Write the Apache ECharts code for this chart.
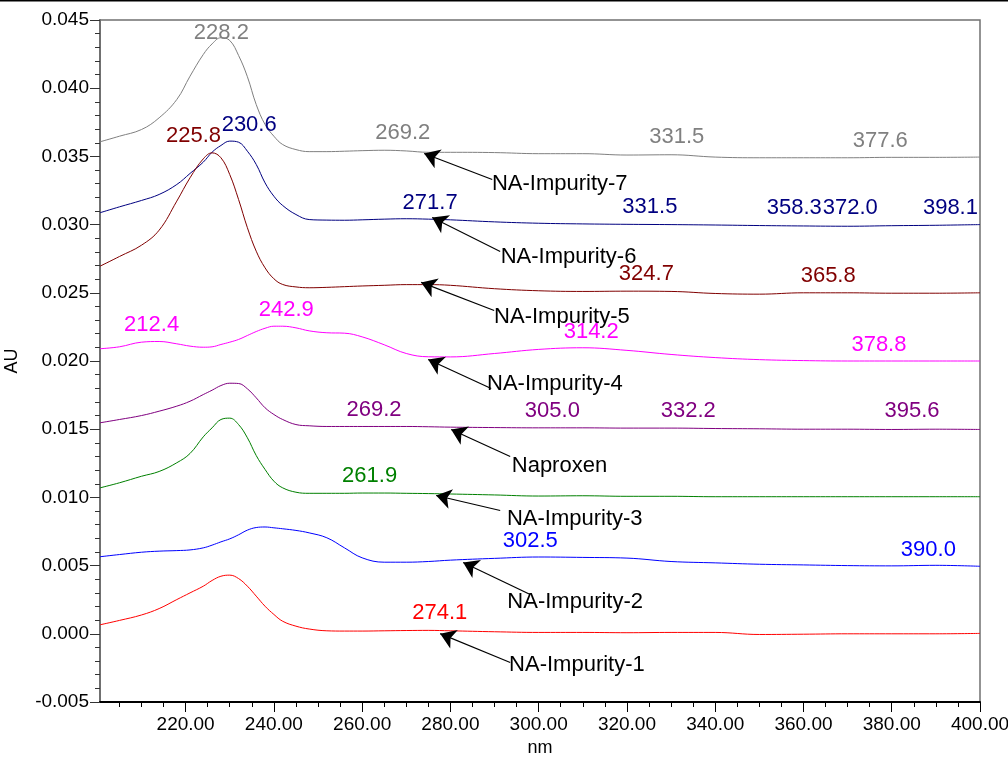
<!DOCTYPE html>
<html>
<head>
<meta charset="utf-8">
<script src="https://cdn.jsdelivr.net/npm/echarts@6/dist/echarts.min.js"></script>
<style>
html,body{margin:0;padding:0;background:#fff;}
#chart{width:1008px;height:758px;}
</style>
</head>
<body>
<div id="chart"></div>
<script>
// ---- Data ----
const wavelengths = [200.6, 205, 210, 214, 218, 221, 224, 226, 228, 230, 232, 234, 236, 238, 240, 242, 245, 248, 252, 256, 260, 265, 270, 275, 280, 290, 300, 310, 320, 330, 340, 350, 360, 370, 380, 390, 400];

const impurity7 = [0.03607, 0.03648, 0.03697, 0.03783, 0.03917, 0.04088, 0.04247, 0.04325, 0.0437, 0.0435, 0.0424, 0.04084, 0.0388, 0.03734, 0.03648, 0.03587, 0.0355, 0.03535, 0.03535, 0.03538, 0.03542, 0.03545, 0.0354, 0.0353, 0.0353, 0.03528, 0.0352, 0.0352, 0.0351, 0.03512, 0.03495, 0.0349, 0.0349, 0.0349, 0.03493, 0.03493, 0.03495];
const impurity6 = [0.03087, 0.0313, 0.03177, 0.03221, 0.03294, 0.03375, 0.03458, 0.03531, 0.0358, 0.03612, 0.03604, 0.03538, 0.03441, 0.03306, 0.03208, 0.0314, 0.03074, 0.03037, 0.03033, 0.03032, 0.03035, 0.0304, 0.03043, 0.0304, 0.03035, 0.0302, 0.0301, 0.03005, 0.03002, 0.03, 0.02997, 0.02993, 0.0299, 0.02988, 0.02992, 0.02995, 0.03];
const impurity5 = [0.02695, 0.02766, 0.02849, 0.02959, 0.03172, 0.03343, 0.03482, 0.03526, 0.0349, 0.03367, 0.03184, 0.02977, 0.02805, 0.02683, 0.02603, 0.02561, 0.02543, 0.02537, 0.0254, 0.02545, 0.0255, 0.02555, 0.0256, 0.0256, 0.02555, 0.0253, 0.02515, 0.0251, 0.02512, 0.0251, 0.02495, 0.0249, 0.025, 0.025, 0.02497, 0.02497, 0.025];
const impurity4 = [0.0209, 0.02104, 0.02138, 0.02143, 0.02126, 0.02109, 0.02101, 0.02104, 0.02121, 0.02138, 0.02158, 0.02187, 0.02216, 0.0224, 0.02255, 0.02255, 0.02243, 0.02221, 0.02207, 0.02204, 0.02177, 0.02119, 0.02055, 0.02031, 0.0203, 0.02055, 0.02085, 0.02097, 0.02078, 0.02048, 0.02025, 0.0201, 0.02003, 0.02, 0.02, 0.02, 0.02];
const naproxen = [0.01547, 0.01571, 0.016, 0.01632, 0.01669, 0.01705, 0.01754, 0.01786, 0.0182, 0.01837, 0.01835, 0.01796, 0.0173, 0.01657, 0.01608, 0.01571, 0.01534, 0.01525, 0.0152, 0.0152, 0.0152, 0.0152, 0.0152, 0.01518, 0.01515, 0.01512, 0.0151, 0.0151, 0.01508, 0.01508, 0.01505, 0.01503, 0.015, 0.015, 0.01498, 0.015, 0.01498];
const impurity3 = [0.0107, 0.01107, 0.01155, 0.0119, 0.01254, 0.01322, 0.01444, 0.0151, 0.01571, 0.01581, 0.01534, 0.01437, 0.01307, 0.01205, 0.01119, 0.0107, 0.01038, 0.0103, 0.0103, 0.0103, 0.01032, 0.01032, 0.0103, 0.01028, 0.01025, 0.01018, 0.0101, 0.01012, 0.01008, 0.01008, 0.01005, 0.01005, 0.01005, 0.01005, 0.01005, 0.01005, 0.01005];
const impurity2 = [0.00565, 0.00581, 0.00598, 0.00606, 0.0061, 0.00615, 0.0063, 0.0065, 0.00674, 0.00696, 0.00726, 0.0076, 0.00779, 0.00783, 0.00777, 0.0077, 0.00758, 0.0074, 0.00704, 0.0063, 0.00557, 0.00525, 0.00525, 0.0053, 0.0054, 0.00553, 0.00563, 0.0056, 0.00555, 0.0053, 0.0052, 0.0051, 0.00505, 0.005, 0.00498, 0.00502, 0.00495];
const impurity1 = [0.00066, 0.00098, 0.00138, 0.00185, 0.00251, 0.003, 0.00349, 0.00391, 0.00422, 0.0043, 0.00405, 0.00349, 0.00276, 0.00202, 0.00142, 0.00092, 0.00056, 0.00035, 0.00022, 0.0002, 0.0002, 0.00022, 0.00024, 0.00025, 0.00022, 0.00015, 0.0001, 0.0001, 0.00008, 0.0001, 0.0001, -0.00005, -0.00003, 0, 0, 0, 0.00003];

const seriesNames = ['NA-Impurity-7', 'NA-Impurity-6', 'NA-Impurity-5', 'NA-Impurity-4', 'Naproxen', 'NA-Impurity-3', 'NA-Impurity-2', 'NA-Impurity-1'];
const seriesColors = ['#808080', '#000080', '#800000', '#ff00ff', '#800080', '#008000', '#0000ff', '#ff0000'];
const seriesValues = [impurity7, impurity6, impurity5, impurity4, naproxen, impurity3, impurity2, impurity1];

// Peak labels: [series index, label nm, label AU, text]
const peakLabels = [
  [0, 228.1, 0.04403, '228.2'], [0, 269.2, 0.03673, '269.2'], [0, 331.3, 0.03641, '331.5'], [0, 377.4, 0.03611, '377.6'],
  [1, 234.4, 0.03734, '230.6'], [1, 275.4, 0.0316, '271.7'], [1, 325.2, 0.03129, '331.5'], [1, 357.9, 0.0312, '358.3'], [1, 370.6, 0.0312, '372.0'], [1, 393.3, 0.03123, '398.1'],
  [2, 221.8, 0.03648, '225.8'], [2, 324.4, 0.02641, '324.7'], [2, 365.6, 0.02622, '365.8'],
  [3, 212.3, 0.02268, '212.4'], [3, 242.8, 0.02378, '242.9'], [3, 311.9, 0.02213, '314.2'], [3, 377.1, 0.02121, '378.8'],
  [4, 262.7, 0.01644, '269.2'], [4, 303.1, 0.01632, '305.0'], [4, 333.9, 0.01632, '332.2'], [4, 384.6, 0.01632, '395.6'],
  [5, 261.7, 0.01161, '261.9'],
  [6, 298.1, 0.00679, '302.5'], [6, 388.3, 0.00618, '390.0'],
  [7, 277.6, 0.00154, '274.1']
];

// Name callouts: text anchor (left, middle), arrow tip, arrow tail
const nameLabelPos = [
  [289.4, 0.03298], [291.4, 0.02766], [289.9, 0.02326], [288.3, 0.01835],
  [293.9, 0.01227], [292.8, 0.00845], [292.9, 0.00237], [293.3, -0.00225]
];
const arrowTips = [
  [274.05, 0.03521], [275.87, 0.03052], [273.37, 0.02576], [274.96, 0.02011],
  [280.17, 0.01498], [276.77, 0.01014], [282.89, 0.00523], [277.68, 0.00001]
];
const arrowTails = [
  [289.47, 0.03331], [291.28, 0.02803], [289.92, 0.0237], [289.24, 0.01798],
  [293.55, 0.013], [291.28, 0.00904], [298.08, 0.00288], [293.55, -0.0021]
];

const xMajorTicks = [220, 240, 260, 280, 300, 320, 340, 360, 380, 400];
const xMinorTicks = [205, 210, 215, 225, 230, 235, 245, 250, 255, 265, 270, 275, 285, 290, 295, 305, 310, 315, 325, 330, 335, 345, 350, 355, 365, 370, 375, 385, 390, 395];

// ---- Chart ----
const FONT = "'Liberation Sans', Arial, sans-serif";
const chart = echarts.init(document.getElementById('chart'), null, {renderer: 'canvas'});

const lineSeries = seriesNames.map((name, i) => ({
  name: name,
  type: 'line',
  xAxisIndex: 0,
  yAxisIndex: 0,
  data: wavelengths.map((w, k) => [w, seriesValues[i][k]]),
  smooth: 0.4,
  showSymbol: false,
  symbol: 'none',
  lineStyle: {color: seriesColors[i], width: 1},
  itemStyle: {color: seriesColors[i]},
  silent: true,
  z: 3
}));

const peakSeries = {
  type: 'scatter',
  xAxisIndex: 0, yAxisIndex: 0,
  symbolSize: 0,
  silent: true,
  itemStyle: {opacity: 1},
  data: peakLabels.map(p => ({
    value: [p[1], p[2]],
    label: {
      show: true, position: 'inside', formatter: p[3], opacity: 1,
      color: seriesColors[p[0]], fontSize: 22, fontFamily: FONT
    }
  })),
  z: 5
};

const nameSeries = {
  type: 'scatter',
  xAxisIndex: 0, yAxisIndex: 0,
  symbolSize: 0,
  silent: true,
  itemStyle: {opacity: 1},
  data: seriesNames.map((n, i) => ({
    value: nameLabelPos[i],
    label: {
      show: true, position: 'right', distance: 0, formatter: n, opacity: 1,
      color: '#000', fontSize: 22, fontFamily: FONT
    }
  })),
  z: 5
};

const arrowSeries = {
  type: 'lines',
  coordinateSystem: 'cartesian2d',
  xAxisIndex: 0, yAxisIndex: 0,
  symbol: ['arrow', 'none'],
  symbolSize: [15, 0],
  silent: true,
  lineStyle: {color: '#000', width: 1.2, opacity: 1},
  itemStyle: {color: '#000'},
  data: arrowTips.map((t, i) => ({coords: [t, arrowTails[i]]})),
  z: 6
};

const option = {
  animation: false,
  backgroundColor: '#fff',
  grid: {
    left: 100, right: 28, top: 20, bottom: 56,
    outerBoundsMode: 'none', containLabel: false,
    show: true, borderColor: '#707070', borderWidth: 1.5, backgroundColor: 'transparent'
  },
  xAxis: [
    {
      type: 'value', min: 200.6, max: 400, position: 'bottom',
      name: 'nm', nameLocation: 'middle', nameGap: 37,
      nameTextStyle: {fontSize: 18, fontFamily: FONT, color: '#000'},
      axisLine: {show: true, onZero: false, lineStyle: {color: '#000', width: 2}},
      axisTick: {show: true, customValues: xMajorTicks, length: 10, lineStyle: {color: '#000', width: 1}},
      axisLabel: {show: true, customValues: xMajorTicks, margin: 13, fontSize: 19, fontFamily: FONT, color: '#000',
        formatter: v => Number(v).toFixed(2)},
      splitLine: {show: false}
    },
    {
      type: 'value', min: 200.6, max: 400, position: 'bottom', offset: 0,
      axisLine: {show: false, onZero: false},
      axisTick: {show: true, customValues: xMinorTicks, length: 5, lineStyle: {color: '#000', width: 1}},
      axisLabel: {show: false},
      splitLine: {show: false}
    }
  ],
  yAxis: [{
    type: 'value', min: -0.005, max: 0.045, interval: 0.005,
    name: 'AU', nameLocation: 'middle', nameGap: 79, nameRotate: 90,
    nameTextStyle: {fontSize: 18, fontFamily: FONT, color: '#000'},
    axisLine: {show: true, onZero: false, lineStyle: {color: '#707070', width: 2}},
    axisTick: {show: true, length: 10, lineStyle: {color: '#333', width: 1}},
    minorTick: {show: true, splitNumber: 5, length: 5, lineStyle: {color: '#333', width: 1}},
    axisLabel: {margin: 11, fontSize: 19, fontFamily: FONT, color: '#000',
      formatter: v => Number(v).toFixed(3)},
    splitLine: {show: false},
    minorSplitLine: {show: false}
  }],
  graphic: [{
    type: 'rect', left: 0, top: 0, shape: {width: 1008, height: 1.6},
    style: {fill: '#000'}, silent: true, z: 100
  }],
  series: [...lineSeries, peakSeries, nameSeries, arrowSeries]
};

chart.setOption(option);
</script>
</body>
</html>
